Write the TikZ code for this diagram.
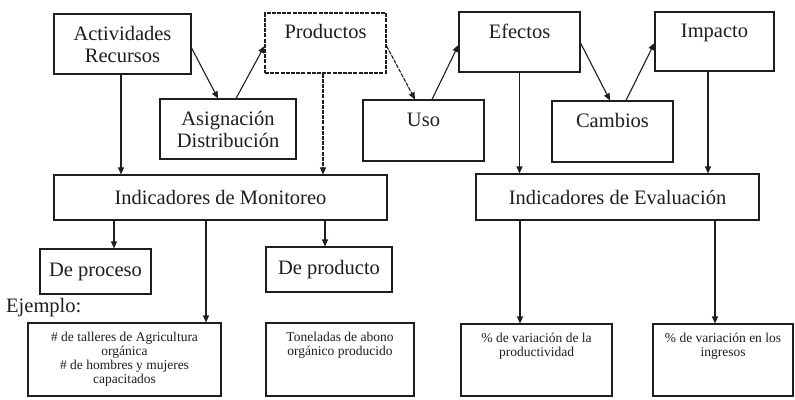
\documentclass[tikz,border=0pt]{standalone}
\usepackage{fontspec}
\setmainfont{Liberation Serif}
\usetikzlibrary{arrows.meta}
\definecolor{ink}{RGB}{30,30,30}
\tikzset{
  box/.style={draw=ink, line width=1.1pt, inner sep=0pt, text=ink},
  big/.style={font=\fontsize{20.5}{23}\selectfont},
  small/.style={font=\fontsize{13.5}{14}\selectfont},
  arr/.style={draw=ink, line width=1.1pt, -{Triangle[length=7pt,width=6pt]}},
  dsh/.style={dash pattern=on 4pt off 1.2pt},
}
\begin{document}
\begin{tikzpicture}[x=1pt,y=-1pt]
\useasboundingbox[fill=white] (0,0) rectangle (795,399);
% top row
\node[box, big, minimum width=137pt, minimum height=60pt, align=center] (act) at (122.5,44) {Actividades\\[-1pt]Recursos};
\node[box, dsh, minimum width=121pt, minimum height=60pt,
  label={[anchor=north, inner sep=0pt, yshift=-12pt, text=ink, big]north:Productos}] (prod) at (325.5,43) {};
\node[box, big, minimum width=136pt, minimum height=60pt, align=center] (asig) at (228,129) {Asignación\\[-1pt]Distribución};
\node[box, minimum width=121pt, minimum height=61pt,
  label={[anchor=north, inner sep=0pt, yshift=-13pt, text=ink, big]north:Uso}] (uso) at (423.5,130.5) {};
\node[box, minimum width=121pt, minimum height=60pt,
  label={[anchor=north, inner sep=0pt, yshift=-12pt, text=ink, big]north:Efectos}] (efe) at (519.5,42) {};
\node[box, minimum width=119pt, minimum height=59pt,
  label={[anchor=north, inner sep=0pt, yshift=-12pt, text=ink, big]north:Impacto}] (imp) at (714.5,41.5) {};
\node[box, minimum width=121pt, minimum height=61pt,
  label={[anchor=north, inner sep=0pt, yshift=-13pt, text=ink, big]north:Cambios}] (camb) at (612.5,131.5) {};
% indicator boxes
\node[box, big, minimum width=333pt, minimum height=45pt] (mon) at (220.5,197.5) {Indicadores de Monitoreo};
\node[box, big, minimum width=283pt, minimum height=46pt] (eva) at (617.5,197) {Indicadores de Evaluación};
\node[box, big, minimum width=111pt, minimum height=45pt] (proc) at (95.5,271.5) {De proceso};
\node[box, big, minimum width=126pt, minimum height=45pt] (prodc) at (329,269.5) {De producto};
\node[big, anchor=west, inner sep=0pt, text=ink] (ej) at (6,308) {Ejemplo:};
% example boxes
\node[box, small, minimum width=193pt, minimum height=73pt, align=center] (b1) at (124.5,359.5)
  {\# de talleres de Agricultura\\orgánica\\\# de hombres y mujeres\\capacitados};
\node[box, minimum width=148pt, minimum height=73pt,
  label={[anchor=north, inner sep=0pt, yshift=-9pt, text=ink, small, align=center]north:Toneladas de abono\\orgánico producido}] (b2) at (340,359.5) {};
\node[box, minimum width=151pt, minimum height=72pt,
  label={[anchor=north, inner sep=0pt, yshift=-9pt, text=ink, small, align=center]north:\% de variación de la\\productividad}] (b3) at (536.5,360) {};
\node[box, minimum width=140pt, minimum height=72pt,
  label={[anchor=north, inner sep=0pt, yshift=-9pt, text=ink, small, align=center]north:\% de variación en los\\ingresos}] (b4) at (723,360) {};
% helper coordinates
\coordinate (c1) at ([xshift=18.5pt]proc.north);
\coordinate (c2) at ([xshift=81.5pt]b1.north);
\coordinate (c3) at ([xshift=-4pt]prodc.north);
\coordinate (c4) at ([xshift=-16.5pt]b3.north);
\coordinate (c5) at ([xshift=-8pt]b4.north);
\coordinate (c6) at ([xshift=-6.5pt]imp.south);
% diagonal arrows
\draw[arr] ([yshift=-4pt]act.east) -- ([xshift=-10pt]asig.north);
\draw[arr] ([xshift=8pt]asig.north) -- ([yshift=-3pt]prod.west);
\draw[arr, dsh] ([yshift=-3pt]prod.east) -- ([xshift=-8.5pt]uso.north);
\draw[arr] ([xshift=8.5pt]uso.north) -- ([yshift=-3pt]efe.west);
\draw[arr] ([yshift=-1pt]efe.east) -- ([xshift=-2.5pt]camb.north);
\draw[arr] ([xshift=13.5pt]camb.north) -- ([yshift=-1.5pt]imp.west);
% vertical arrows
\draw[arr] ([xshift=-1.5pt]act.south) -- ([xshift=-1.5pt]act.south |- mon.north);
\draw[arr, dsh] ([xshift=-2.5pt]prod.south) -- ([xshift=-2.5pt]prod.south |- mon.north);
\draw[arr] (efe.south) -- (efe.south |- eva.north);
\draw[arr] (c6) -- (c6 |- eva.north);
\draw[arr] (c1 |- mon.south) -- (c1);
\draw[arr] (c2 |- mon.south) -- (c2);
\draw[arr] (c3 |- mon.south) -- (c3);
\draw[arr] (c4 |- eva.south) -- (c4);
\draw[arr] (c5 |- eva.south) -- (c5);
\end{tikzpicture}
\end{document}
